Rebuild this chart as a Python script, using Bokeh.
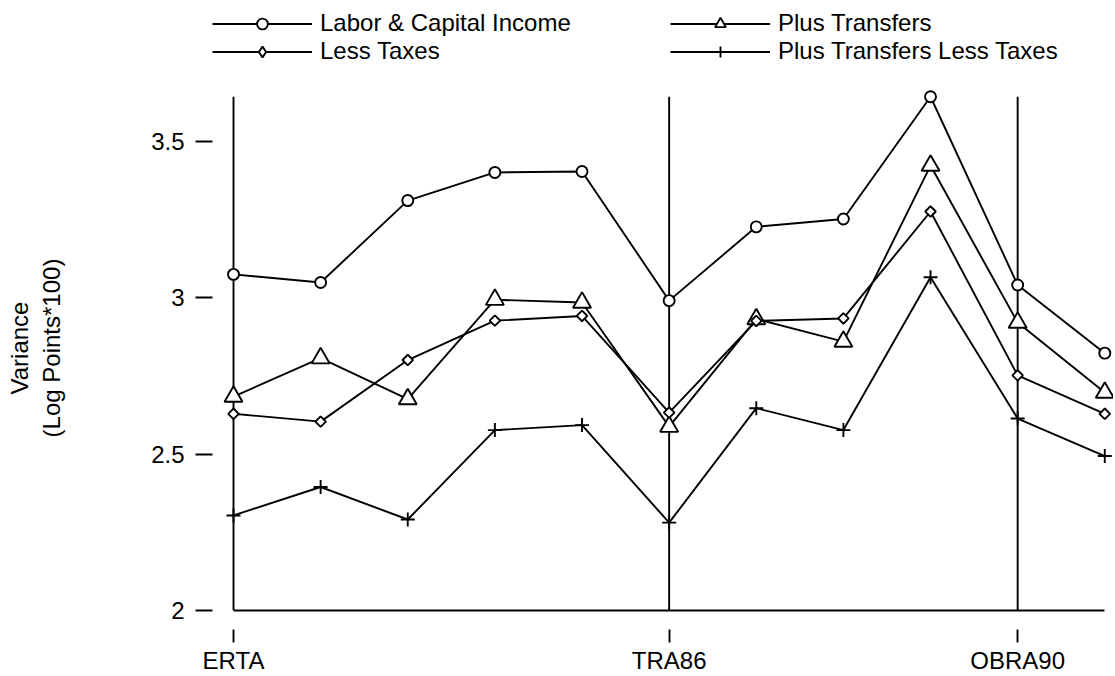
import numpy as np
from bokeh.plotting import figure
from bokeh.layouts import column
from bokeh.models import Range1d, FixedTicker, Legend, LegendItem
from bokeh.embed import file_html
from bokeh.resources import INLINE

years = [1981, 1982, 1983, 1984, 1985, 1986, 1987, 1988, 1989, 1990, 1991]
labor_capital = [3.075, 3.049, 3.311, 3.401, 3.404, 2.991, 3.227, 3.252, 3.643, 3.041, 2.823]
plus_transfers = [2.684, 2.807, 2.676, 2.994, 2.985, 2.588, 2.932, 2.860, 3.423, 2.921, 2.697]
less_taxes = [2.629, 2.604, 2.801, 2.927, 2.942, 2.633, 2.926, 2.934, 3.276, 2.752, 2.629]
plus_transfers_less_taxes = [2.304, 2.395, 2.291, 2.577, 2.593, 2.281, 2.647, 2.577, 3.066, 2.614, 2.494]

series_names = ["Labor & Capital Income", "Plus Transfers", "Less Taxes", "Plus Transfers Less Taxes"]

policy_years = [1981, 1986, 1990]
policy_labels = ["ERTA", "TRA86", "OBRA90"]

y_ticks = [2, 2.5, 3, 3.5]
y_tick_labels = ["2", "2.5", "3", "3.5"]
y_title = "Variance\n(Log Points*100)"

FONT = "Liberation Sans"
FS = "24px"
LW = 1.9
W = 1113
TOP_H = 85
LEFT = 210

markers = [
    dict(marker="circle", size=11, angle=0, legend_marker="circle"),
    dict(marker="triangle", size=18, angle=0, legend_marker="triangle"),
    dict(marker="square", size=7.5, angle=np.pi / 4, legend_marker="diamond"),
    dict(marker="cross", size=14, angle=0, legend_marker="cross"),
]
all_series = [labor_capital, plus_transfers, less_taxes, plus_transfers_less_taxes]

# ---------------- main plot ----------------
p = figure(width=W, height=676 - TOP_H, output_backend="svg", toolbar_location=None,
           x_range=Range1d(1980.736, 1991.1), y_range=Range1d(2, 3.679),
           min_border_left=LEFT, min_border_right=0, min_border_top=0, min_border_bottom=66)
p.grid.visible = False
p.outline_line_color = None
p.background_fill_color = "white"

top = max(max(s) for s in all_series)
n = len(policy_years)
p.segment(x0=policy_years, y0=[y_ticks[0]] * n, x1=policy_years, y1=[top] * n,
          line_color="black", line_width=LW)

for vals, m in zip(all_series, markers):
    p.line(years, vals, line_color="black", line_width=LW)
    p.scatter(years, vals, marker=m["marker"], size=m["size"], angle=m["angle"],
              line_color="black", fill_color="white", line_width=LW)

# x axis
xa = p.xaxis[0]
xa.ticker = FixedTicker(ticks=policy_years)
xa.major_label_overrides = {y: l for y, l in zip(policy_years, policy_labels)}
xa.bounds = (years[0], years[-1])
xa.minor_tick_line_color = None
xa.major_tick_in = -19
xa.major_tick_out = 32
xa.major_tick_line_width = LW
xa.major_tick_line_color = "black"
xa.axis_line_width = LW
xa.axis_line_color = "black"
xa.major_label_standoff = 4
xa.major_label_text_font = FONT
xa.major_label_text_font_size = FS
xa.major_label_text_color = "black"

# y axis
ya = p.yaxis[0]
ya.ticker = FixedTicker(ticks=y_ticks)
ya.major_label_overrides = {t: l for t, l in zip(y_ticks, y_tick_labels)}
ya.minor_tick_line_color = None
ya.axis_line_color = None
ya.major_tick_in = 2
ya.major_tick_out = 15
ya.major_tick_line_width = LW
ya.major_tick_line_color = "black"
ya.major_label_standoff = 11
ya.major_label_text_font = FONT
ya.major_label_text_font_size = FS
ya.major_label_text_color = "black"
ya.axis_label = y_title
ya.axis_label_text_font = FONT
ya.axis_label_text_font_size = FS
ya.axis_label_text_font_style = "normal"
ya.axis_label_text_color = "black"
ya.axis_label_standoff = 83

# ---------------- legend strip ----------------
lg = figure(width=W, height=TOP_H, output_backend="svg", toolbar_location=None,
            x_range=Range1d(0, 1), y_range=Range1d(0, 1),
            x_axis_type=None, y_axis_type=None,
            min_border_left=LEFT, min_border_right=0, min_border_top=0, min_border_bottom=0)
lg.grid.visible = False
lg.outline_line_color = None

# same series drawn outside this strip's view; only used for legend glyphs
leg_rends = []
for vals, m in zip(all_series, markers):
    ln = lg.line(years, vals, line_color="black", line_width=LW)
    sc = lg.scatter(years, vals, marker=m["legend_marker"],
                    line_color="black", fill_color="white", line_width=LW)
    leg_rends.append([ln, sc])

def make_legend(idx, loc):
    return Legend(items=[LegendItem(label=series_names[i], renderers=leg_rends[i]) for i in idx],
                  location=loc, orientation="vertical", padding=0, margin=0, spacing=0,
                  glyph_width=100, glyph_height=27, label_height=27, label_standoff=8,
                  label_text_font=FONT, label_text_font_size=FS, label_text_color="black",
                  background_fill_alpha=0, border_line_color=None)

lg.add_layout(make_legend([0, 2], (212 - LEFT, 20)))
lg.add_layout(make_legend([1, 3], (670 - LEFT, 20)))

layout = column(lg, p, spacing=0)
open("out.html", "w").write(file_html(layout, INLINE))
